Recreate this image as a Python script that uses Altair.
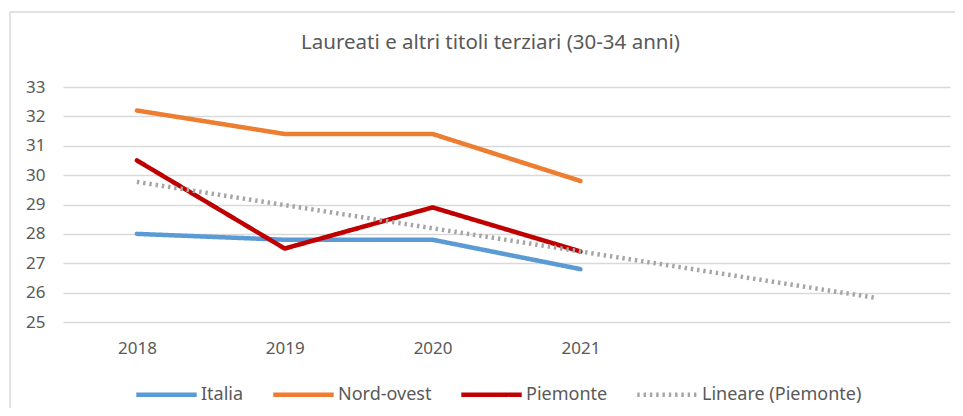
import altair as alt
import pandas as pd

anni = [2018, 2019, 2020, 2021]
italia = [28.0, 27.8, 27.8, 26.8]
nord_ovest = [32.2, 31.4, 31.4, 29.8]
piemonte = [30.5, 27.5, 28.9, 27.4]
trend_anni = [2018, 2023]
trend_valori = [29.77, 25.82]

serie_nomi = ["Italia", "Nord-ovest", "Piemonte", "Lineare (Piemonte)"]
colori = ["#5B9BD5", "#ED7D31", "#C00000", "#A5A5A5"]

rows = []
for nome, vals in [("Italia", italia), ("Nord-ovest", nord_ovest), ("Piemonte", piemonte)]:
    for a, v in zip(anni, vals):
        rows.append({"serie": nome, "anno": a, "valore": v})
df_main = pd.DataFrame(rows)
df_trend = pd.DataFrame({"serie": "Lineare (Piemonte)", "anno": trend_anni, "valore": trend_valori})

FONT = "Noto Sans"
GREY = "#595959"

x_enc = alt.X("anno:Q", scale=alt.Scale(domain=[2017.5, 2023.5], nice=False, zero=False),
              axis=alt.Axis(values=anni, format="d", title=None, grid=False, domain=False,
                            ticks=False, labelPadding=18, labelFontSize=17, labelColor=GREY,
                            labelFont=FONT))
y_enc = alt.Y("valore:Q", scale=alt.Scale(domain=[25, 33], nice=False, zero=False),
              axis=alt.Axis(values=list(range(25, 34)), title=None, domain=False, ticks=False,
                            labelPadding=18, labelFontSize=17, labelColor=GREY, labelFont=FONT,
                            gridColor="#D9D9D9", gridWidth=1.5))
color_enc = alt.Color("serie:N", scale=alt.Scale(domain=serie_nomi, range=colori), title=None)
dash_enc = alt.StrokeDash("serie:N", scale=alt.Scale(domain=serie_nomi,
                          range=[[1, 0], [1, 0], [1, 0], [2.4, 3.9]]), title=None)
width_enc = alt.StrokeWidth("serie:N", scale=alt.Scale(domain=serie_nomi,
                            range=[4.5, 4.5, 4.5, 2]), title=None)

main = alt.Chart(df_main).mark_line(strokeCap="round", strokeJoin="round").encode(
    x=x_enc, y=y_enc, color=color_enc, strokeDash=dash_enc, strokeWidth=width_enc)
trend = alt.Chart(df_trend).mark_line(strokeCap="butt").encode(
    x=x_enc, y=y_enc, color=color_enc, strokeDash=dash_enc, strokeWidth=width_enc)

frame_df = pd.DataFrame({"k": [0]})
frame_top = alt.Chart(frame_df).mark_rule(color="#D9D9D9", strokeWidth=1.5).encode(
    x=alt.value(-53), x2=alt.value(900), y=alt.value(-75))
frame_left = alt.Chart(frame_df).mark_rule(color="#D9D9D9", strokeWidth=1.5).encode(
    x=alt.value(-53), y=alt.value(-75), y2=alt.value(340))

chart = alt.layer(frame_top, frame_left, main, trend).properties(
    width=887, height=235,
    title=alt.TitleParams("Laureati e altri titoli terziari (30-34 anni)", fontSize=20.5,
                          font=FONT, color=GREY, fontWeight="normal", anchor="middle",
                          frame="group", baseline="alphabetic", dx=-16, offset=-58),
    autosize=alt.AutoSizeParams(type="none"),
    padding={"left": 55, "top": 79, "right": 5, "bottom": 86},
).configure_view(stroke=None).configure_legend(
    orient="none", legendX=71, legendY=275, direction="horizontal",
    symbolType="stroke", symbolSize=3650, labelFontSize=18, labelFont=FONT,
    labelColor=GREY, labelOffset=2, columnPadding=20, padding=0,
)

chart.save("out.html", embed_options={"renderer": "svg", "actions": False})
